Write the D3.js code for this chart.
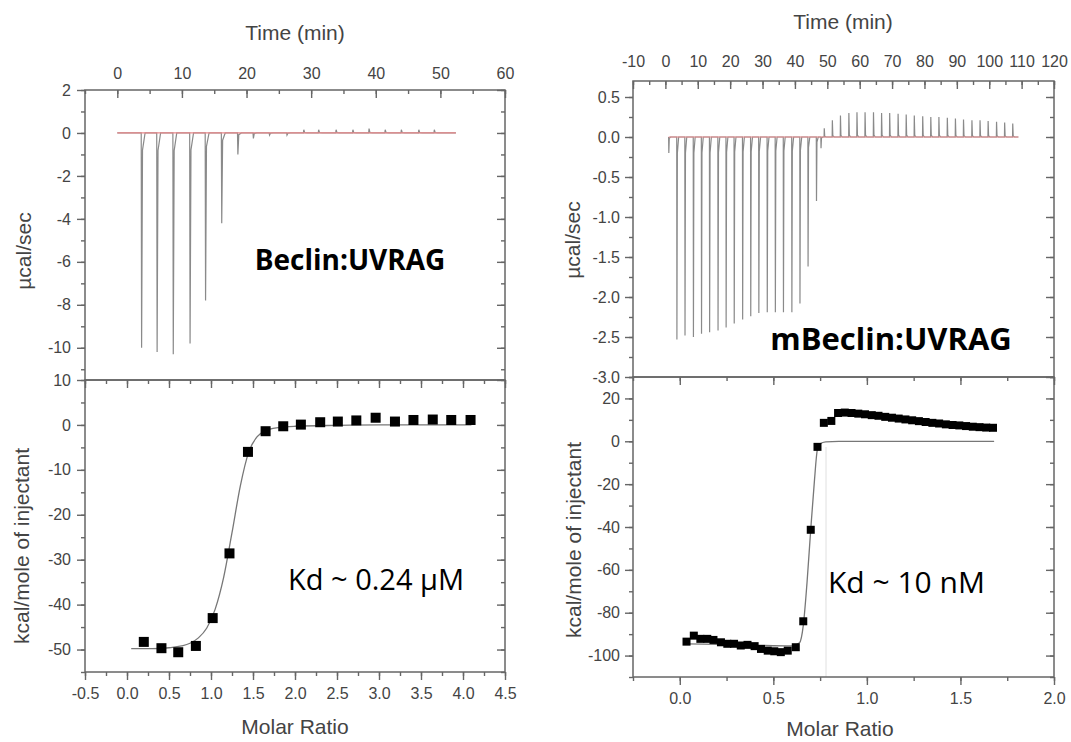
<!DOCTYPE html>
<html>
<head>
<meta charset="utf-8">
<script src="https://cdn.jsdelivr.net/npm/d3@7"></script>
<style>
  body { margin: 0; background: #fff; }
  svg text { font-family: "Liberation Sans", Arial, sans-serif; }
  .axis line { stroke: #666; stroke-width: 1.4; }
  .axis text { fill: #444; font-size: 16px; }
  .frame { fill: none; stroke: #666; stroke-width: 1.5; }
  .title { fill: #444; font-size: 21px; }
</style>
</head>
<body>
<svg id="chart"></svg>
<script>
// ---------- left: Beclin:UVRAG ----------
const leftInjTime = [3.7, 6.1, 8.6, 11.2, 13.6, 16.1, 18.6, 21.0, 23.5, 26.2, 28.8, 31.1, 33.8, 36.4, 38.9, 41.4, 43.9, 46.6, 49.0];
const leftInjPeak = [-10.0, -10.2, -10.3, -9.8, -7.8, -4.2, -1.0, -0.25, -0.1, -0.1, 0.15, 0.15, 0.15, 0.15, 0.2, 0.15, 0.15, 0.15, 0.15];
const leftBaseline = [0, 52.4];
const leftRatio = [0.20, 0.41, 0.61, 0.82, 1.02, 1.22, 1.44, 1.65, 1.86, 2.07, 2.30, 2.51, 2.73, 2.96, 3.19, 3.41, 3.64, 3.86, 4.09];
const leftHeat  = [-48.3, -49.7, -50.6, -49.2, -43.0, -28.6, -6.0, -1.4, -0.3, 0.07, 0.6, 0.75, 1.0, 1.6, 0.75, 1.1, 1.2, 1.1, 1.1];
const leftFitRatio = [0.05, 0.3, 0.5, 0.65, 0.75, 0.85, 0.95, 1.05, 1.15, 1.25, 1.35, 1.45, 1.55, 1.65, 1.8, 2.0, 2.5, 3.0, 3.5, 4.1];
const leftFitHeat  = [-49.8, -49.8, -49.6, -49.2, -48.6, -47.4, -45.2, -41.0, -34.0, -24.0, -13.5, -6.0, -2.6, -1.3, -0.6, -0.3, -0.1, 0, 0, 0];
const leftTimeTicks = [0, 10, 20, 30, 40, 50, 60];
const leftRawTicks = [2, 0, -2, -4, -6, -8, -10];
const leftHeatTicks = [10, 0, -10, -20, -30, -40, -50];
const leftRatioTicks = [-0.5, 0.0, 0.5, 1.0, 1.5, 2.0, 2.5, 3.0, 3.5, 4.0, 4.5];

// ---------- right: mBeclin:UVRAG ----------
const rightInjTime = [1.0, 3.5, 6.0, 8.6, 11.1, 13.6, 16.2, 18.7, 21.2, 23.8, 26.3, 28.8, 31.4, 33.9, 36.4, 39.0, 41.5, 44.0, 46.6,
  48.0, 49.0, 51.5, 54.0, 56.6, 59.1, 61.6, 64.2, 66.7, 69.2, 71.8, 74.3, 76.8, 79.4, 81.9, 84.4, 87.0, 89.5, 92.0, 94.6, 97.1, 99.6, 102.2, 104.7, 107.2];
const rightInjPeak = [-0.2, -2.53, -2.48, -2.50, -2.46, -2.44, -2.42, -2.38, -2.33, -2.28, -2.24, -2.20, -2.19, -2.19, -2.19, -2.19, -2.08, -1.62, -0.80,
  -0.14, 0.11, 0.21, 0.27, 0.30, 0.31, 0.31, 0.31, 0.30, 0.30, 0.29, 0.28, 0.27, 0.26, 0.25, 0.25, 0.24, 0.23, 0.22, 0.21, 0.21, 0.20, 0.19, 0.18, 0.17];
const rightBaseline = [1.0, 109];
const rightRatio = [0.036, 0.075, 0.11, 0.147, 0.18, 0.22, 0.254, 0.29, 0.326, 0.362, 0.40, 0.434, 0.47, 0.505, 0.54, 0.577, 0.62, 0.66, 0.70, 0.736,
  0.77, 0.81, 0.846, 0.882, 0.918, 0.954, 0.990, 1.026, 1.062, 1.098, 1.134, 1.170, 1.206, 1.242, 1.278, 1.314, 1.350, 1.386, 1.422, 1.458, 1.494, 1.530, 1.566, 1.602, 1.638, 1.674];
const rightHeat = [-93.5, -90.7, -92.2, -92.2, -92.7, -93.8, -94.5, -94.5, -95.3, -95.0, -95.6, -96.9, -97.7, -98.0, -98.4, -97.7, -96.1, -84, -41.3, -2.6,
  8.6, 9.5, 13.2, 13.4, 13.2, 12.9, 12.6, 12.2, 11.9, 11.4, 11.0, 10.6, 10.2, 9.8, 9.4, 9.0, 8.6, 8.3, 7.9, 7.6, 7.4, 7.1, 6.8, 6.6, 6.4, 6.3];
const rightFitRatio = [0.04, 0.2, 0.4, 0.6, 0.64, 0.66, 0.68, 0.70, 0.72, 0.735, 0.75, 0.78, 0.85, 1.2, 1.68];
const rightFitHeat  = [-94.5, -94.8, -95.2, -95.5, -94, -86, -66, -41, -18, -4, -1.2, -0.3, 0, 0, 0];
const rightTimeTicks = [-10, 0, 10, 20, 30, 40, 50, 60, 70, 80, 90, 100, 110, 120];
const rightRawTicks = [0.5, 0.0, -0.5, -1.0, -1.5, -2.0, -2.5, -3.0];
const rightHeatTicks = [20, 0, -20, -40, -60, -80, -100];
const rightRatioTicks = [0.0, 0.5, 1.0, 1.5, 2.0];

const svg = d3.select("#chart").attr("width", 1071).attr("height", 742);

// draw ticks along one side; labels only on the major set
function addAxis(orient, scale, major, minor, at, fmt, inward, pad) {
  const mk = { left: d3.axisLeft, right: d3.axisRight, top: d3.axisTop, bottom: d3.axisBottom }[orient];
  const s = inward ? -1 : 1;
  const tr = (orient === "left" || orient === "right") ? `translate(${at},0)` : `translate(0,${at})`;
  svg.append("g").attr("class", "axis").attr("transform", tr)
    .call(mk(scale).tickValues(minor).tickSize(s * 4).tickFormat(""))
    .call(g => g.select(".domain").remove());
  svg.append("g").attr("class", "axis").attr("transform", tr)
    .call(mk(scale).tickValues(major).tickSize(s * 8).tickPadding(pad || 6).tickFormat(fmt || ""))
    .call(g => g.select(".domain").remove());
}

function frame(x, y) {
  svg.append("rect").attr("class", "frame")
    .attr("x", x.range()[0]).attr("y", y.range()[1])
    .attr("width", x.range()[1] - x.range()[0])
    .attr("height", y.range()[0] - y.range()[1]);
}

// raw thermogram: baseline with a sharp peak and quick return at each injection
function thermogram(x, y, times, peaks, base) {
  const pts = [[base[0], 0]];
  times.forEach((t, i) => {
    const p = peaks[i];
    pts.push([t, 0], [t + 0.06, p], [t + 0.2, p * 0.08], [t + 0.6, 0]);
  });
  pts.push([base[1], 0]);
  svg.append("path")
    .attr("d", d3.line().x(d => x(d[0])).y(d => y(d[1]))(pts))
    .attr("fill", "none").attr("stroke", "#8a8a8a").attr("stroke-width", 1.2);
  svg.append("line")
    .attr("x1", x(base[0])).attr("x2", x(base[1]))
    .attr("y1", y(0)).attr("y2", y(0))
    .attr("stroke", "#e8878a").attr("stroke-width", 1.2);
}

function isotherm(x, y, ratio, heat, fitR, fitH, size) {
  svg.append("path")
    .attr("d", d3.line().curve(d3.curveMonotoneX).x(d => x(d[0])).y(d => y(d[1]))(fitR.map((r, i) => [r, fitH[i]])))
    .attr("fill", "none").attr("stroke", "#777").attr("stroke-width", 1.3);
  svg.append("g").selectAll("rect")
    .data(ratio.map((r, i) => [r, heat[i]]))
    .join("rect")
      .attr("x", d => x(d[0]) - size / 2)
      .attr("y", d => y(d[1]) - size / 2)
      .attr("width", size).attr("height", size)
      .attr("fill", "#000");
}

function title(text, x, y, rotate) {
  svg.append("text").attr("class", "title")
    .attr("text-anchor", "middle")
    .attr("transform", `translate(${x},${y})` + (rotate ? " rotate(-90)" : ""))
    .text(text);
}

const fmtInt = d => String(d);
const fmt1 = d => d.toFixed(1);

// ===== left chart =====
const lt = d3.scaleLinear().domain([-5, 60]).range([85, 505]);
const lyRaw = d3.scaleLinear().domain([-11.5, 2]).range([380, 90]);
const lr = d3.scaleLinear().domain([-0.5, 4.5]).range([85, 505]);
const lyHeat = d3.scaleLinear().domain([-55, 10]).range([672, 380]);

thermogram(lt, lyRaw, leftInjTime, leftInjPeak, leftBaseline);
isotherm(lr, lyHeat, leftRatio, leftHeat, leftFitRatio, leftFitHeat, 10);

frame(lt, lyRaw);
frame(lr, lyHeat);
addAxis("top", lt, leftTimeTicks, d3.range(-5, 61, 5), 90, fmtInt, true, 11);
addAxis("left", lyRaw, leftRawTicks, d3.range(-11, 2.1, 1), 85, fmtInt, false, 6);
addAxis("right", lyRaw, leftRawTicks, d3.range(-11, 2.1, 1), 505, null, true);
addAxis("left", lyHeat, leftHeatTicks, d3.range(-55, 10.1, 5), 85, fmtInt, false, 6);
addAxis("right", lyHeat, leftHeatTicks, d3.range(-55, 10.1, 5), 505, null, true);
addAxis("bottom", lr, leftRatioTicks, d3.range(-0.5, 4.51, 0.25), 672, fmt1, false, 8);
addAxis("top", lr, leftRatioTicks, d3.range(-0.5, 4.51, 0.25), 380, null, true);

title("Time (min)", 295, 40);
title("Molar Ratio", 295, 734);
title("µcal/sec", 31, 251, true);
title("kcal/mole of injectant", 29, 546, true);

svg.append("text").attr("x", 350).attr("y", 270).attr("text-anchor", "middle")
  .style("font-family", "'Open Sans', sans-serif").style("font-weight", 700)
  .style("font-size", "28px").attr("fill", "#000").text("Beclin:UVRAG");
svg.append("text").attr("x", 288).attr("y", 590)
  .style("font-family", "'Open Sans', sans-serif")
  .style("font-size", "29px").attr("fill", "#000").text("Kd ~ 0.24 μM");

// ===== right chart =====
const rt = d3.scaleLinear().domain([-10, 120]).range([633, 1054]);
const ryRaw = d3.scaleLinear().domain([-3.0, 0.7]).range([377, 81]);
const rr = d3.scaleLinear().domain([-0.25, 2.0]).range([633, 1054]);
const ryHeat = d3.scaleLinear().domain([-110, 30]).range([677, 377]);

thermogram(rt, ryRaw, rightInjTime, rightInjPeak, rightBaseline);
isotherm(rr, ryHeat, rightRatio, rightHeat, rightFitRatio, rightFitHeat, 8);

// faint edge of the pasted Kd label box
svg.append("line").attr("x1", 826).attr("x2", 826).attr("y1", 447).attr("y2", 677)
  .attr("stroke", "#e0e0e0").attr("stroke-width", 1);

frame(rt, ryRaw);
frame(rr, ryHeat);
addAxis("top", rt, rightTimeTicks, d3.range(-10, 121, 5), 81, fmtInt, true, 14);
addAxis("left", ryRaw, rightRawTicks, d3.range(-3, 0.71, 0.25), 633, fmt1, false, 5);
addAxis("right", ryRaw, rightRawTicks, d3.range(-3, 0.71, 0.25), 1054, null, true);
addAxis("left", ryHeat, rightHeatTicks, d3.range(-110, 30.1, 10), 633, fmtInt, false, 5);
addAxis("right", ryHeat, rightHeatTicks, d3.range(-110, 30.1, 10), 1054, null, true);
addAxis("bottom", rr, rightRatioTicks, d3.range(-0.25, 2.01, 0.25), 677, fmt1, false, 8);
addAxis("top", rr, rightRatioTicks, d3.range(-0.25, 2.01, 0.25), 377, null, true);

title("Time (min)", 843, 29);
title("Molar Ratio", 840, 736);
title("µcal/sec", 580, 240, true);
title("kcal/mole of injectant", 581, 540, true);

svg.append("text").attr("x", 891).attr("y", 350).attr("text-anchor", "middle")
  .style("font-family", "'Open Sans', sans-serif").style("font-weight", 700)
  .style("font-size", "31px").attr("fill", "#000").text("mBeclin:UVRAG");
svg.append("text").attr("x", 828).attr("y", 593)
  .style("font-family", "'Open Sans', sans-serif")
  .style("font-size", "30px").attr("fill", "#000").text("Kd ~ 10 nM");
</script>
</body>
</html>
